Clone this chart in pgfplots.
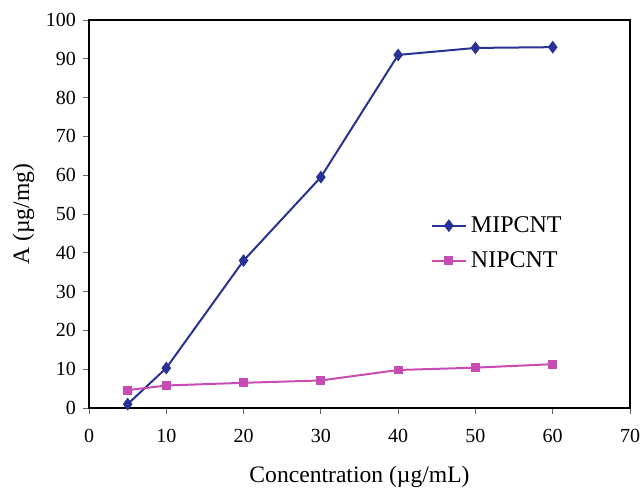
\documentclass[border=0pt]{standalone}
\usepackage{fontspec}
\setmainfont{Liberation Serif}
\usepackage{pgfplots}
\pgfplotsset{compat=1.18}
\definecolor{mipcol}{RGB}{40,50,150}
\definecolor{nipcol}{RGB}{200,75,180}
\begin{document}
\begin{tikzpicture}
\begin{axis}[
  name=ax,
  scale only axis,
  width=270.5pt, height=194pt,
  xmin=0, xmax=70, ymin=0, ymax=100,
  xtick={0,10,...,70}, ytick={0,10,...,100},
  tick align=outside, tick pos=left,
  major tick length=3pt,
  tick style={black!60, line width=0.4pt},
  axis line style={black, line width=1.2pt},
  /pgf/number format/assume math mode=true,
  ticklabel style={font=\fontsize{10}{12}\selectfont},
  xticklabel style={yshift=-4pt},
  xlabel={Concentration (µg/mL)},
  ylabel={A (µg/mg)},
  xlabel style={yshift=-5pt},
  ylabel style={yshift=-1pt},
  label style={font=\fontsize{11.8}{14}\selectfont},
  legend style={draw=none, fill=none, at={(0.62,0.425)}, anchor=west,
    font=\fontsize{12}{14}\selectfont, row sep=4pt},
  legend cell align=left,
]
\addplot[mipcol, line width=1pt, mark=diamond*, mark size=2.4pt,
  mark options={fill=mipcol}] coordinates {
  (5,1) (10,10.3) (20,38) (30,59.5) (40,91) (50,92.8) (60,93)};
\addlegendentry{MIPCNT}
\addplot[nipcol, line width=1pt, mark=square*, mark size=1.7pt,
  mark options={fill=nipcol}] coordinates {
  (5,4.6) (10,5.8) (20,6.5) (30,7.1) (40,9.8) (50,10.4) (60,11.3)};
\addlegendentry{NIPCNT}
\end{axis}
\pgfresetboundingbox
\path ([xshift=-44.5pt,yshift=10pt]ax.north west) rectangle ([xshift=5.5pt,yshift=-39.5pt]ax.south east);
\end{tikzpicture}
\end{document}
